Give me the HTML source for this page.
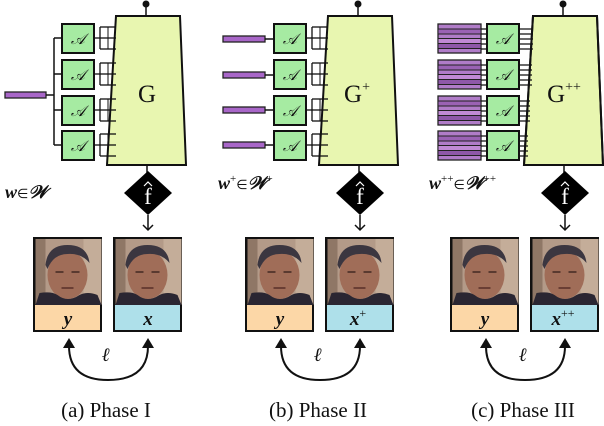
<!DOCTYPE html>
<html><head><meta charset="utf-8"><style>
html,body{margin:0;padding:0;background:#fff;}
svg{display:block;}
text{font-family:"Liberation Serif",serif;}
</style></head><body>
<svg width="604" height="426" viewBox="0 0 604 426" xmlns="http://www.w3.org/2000/svg">
<defs>
<g id="face">
  <rect x="0" y="0" width="66" height="66" fill="#b39a88"/>
  <rect x="48" y="0" width="18" height="66" fill="#c4ad99"/>
  <rect x="0" y="0" width="10" height="66" fill="#8f7766"/>
  <ellipse cx="32" cy="36" rx="20" ry="24" fill="#a06d58"/>
  <path d="M10 26 Q12 6 32 6 Q52 6 54 24 Q46 14 32 15 Q18 15 12 30 Z" fill="#3b3640"/>
  <path d="M0 66 L4 54 Q16 52 22 56 Q32 64 44 56 Q52 52 62 56 L66 66 Z" fill="#2a2632"/>
  <rect x="20" y="32" width="8" height="2" fill="#5a3a30"/>
  <rect x="36" y="32" width="8" height="2" fill="#5a3a30"/>
  <rect x="26" y="48" width="12" height="2" fill="#6a3e34"/>
</g>
<g id="abox">
  <rect x="0" y="0" width="32" height="29" fill="#a6eba2" stroke="#111" stroke-width="2"/>
  <text x="16" y="20" font-size="15" font-style="italic" text-anchor="middle" fill="#111">𝒜</text>
</g>
<g id="common">
  <polygon points="116,16 180,16 186,165 107,165" fill="#e8f6b0" stroke="#111" stroke-width="2"/>
  <line x1="146" y1="4" x2="146" y2="16" stroke="#111" stroke-width="1.5"/>
  <circle cx="146" cy="4" r="3.5" fill="#111"/>
  <line x1="147" y1="165" x2="147" y2="173" stroke="#111" stroke-width="1.5"/>
  <polygon points="148,171 172,193 148,215 124,193" fill="#000"/>
  <text x="148" y="204" font-size="23" fill="#fff" text-anchor="middle">f</text>
  <path d="M144 186 L148 182 L152 186" fill="none" stroke="#fff" stroke-width="1.2"/>
  <line x1="148" y1="215" x2="148" y2="230" stroke="#111" stroke-width="1.5"/>
  <polyline points="143,225 148,230 153,225" fill="none" stroke="#111" stroke-width="1.5"/>
  <rect x="33" y="237" width="69" height="95" fill="#111"/>
  <use href="#face" transform="translate(35.5,239)"/>
  <rect x="35" y="305" width="65" height="25" fill="#fcd7a7"/>
  <rect x="113" y="237" width="69" height="95" fill="#111"/>
  <use href="#face" transform="translate(115.5,239)"/>
  <rect x="115" y="305" width="65" height="25" fill="#aee0ea"/>
  <text x="68" y="325" font-size="19" font-weight="bold" font-style="italic" text-anchor="middle" fill="#111">y</text>
  <path d="M69 346 Q69 380 108 380 Q148 380 148 346" fill="none" stroke="#111" stroke-width="2"/>
  <polygon points="63,348 69,338 75,348" fill="#111"/>
  <polygon points="142,348 148,338 154,348" fill="#111"/>
  <text x="106" y="361" font-size="19" font-weight="bold" font-style="italic" text-anchor="middle" fill="#111">ℓ</text>
</g>
<g id="ladder">
  <line x1="0" y1="14" x2="6" y2="14" stroke="#111" stroke-width="1.3"/>
  <line x1="6" y1="3" x2="6" y2="25" stroke="#111" stroke-width="1.3"/>
  <line x1="6" y1="3" x2="22" y2="3" stroke="#111" stroke-width="1.3"/>
  <line x1="6" y1="14" x2="22" y2="14" stroke="#111" stroke-width="1.3"/>
  <line x1="6" y1="25" x2="22" y2="25" stroke="#111" stroke-width="1.3"/>
  <line x1="14" y1="3" x2="14" y2="25" stroke="#111" stroke-width="1"/>
</g>
<g id="stack">
  <rect x="0" y="0" width="43" height="29" fill="#b07cc8" stroke="#222" stroke-width="1.3"/>
  <rect x="0" y="5" width="43" height="5" fill="#9a62b4" stroke="#222" stroke-width="1"/>
  <rect x="0" y="14.5" width="43" height="5" fill="#c08ad4" stroke="#222" stroke-width="1"/>
  <rect x="0" y="19.5" width="43" height="5" fill="#8e58a8" stroke="#222" stroke-width="1"/>
</g>
</defs>

<!-- Panel a -->
<use href="#common"/>
<text x="147" y="102" font-size="25" text-anchor="middle" fill="#111">G</text>
<text x="148" y="325" font-size="19" font-weight="bold" font-style="italic" text-anchor="middle" fill="#111">x</text>
<rect x="5" y="92" width="41" height="6" fill="#a866c8" stroke="#222" stroke-width="1.3"/>
<line x1="46" y1="95" x2="54" y2="95" stroke="#111" stroke-width="1.5"/>
<line x1="54" y1="38" x2="54" y2="145" stroke="#111" stroke-width="1.5"/>
<g stroke="#111" stroke-width="1.5">
<line x1="54" y1="38" x2="62" y2="38"/><line x1="54" y1="74" x2="62" y2="74"/>
<line x1="54" y1="110" x2="62" y2="110"/><line x1="54" y1="145" x2="62" y2="145"/>
</g>
<use href="#abox" transform="translate(62,24)"/>
<use href="#abox" transform="translate(62,60)"/>
<use href="#abox" transform="translate(62,96)"/>
<use href="#abox" transform="translate(62,131)"/>
<use href="#ladder" transform="translate(94,24)"/>
<use href="#ladder" transform="translate(94,60)"/>
<use href="#ladder" transform="translate(94,96)"/>
<use href="#ladder" transform="translate(94,131)"/>
<text x="5" y="198" font-size="18" font-weight="bold" font-style="italic" fill="#111">w<tspan font-weight="normal" font-style="normal" font-size="13">∈</tspan>𝒲</text>
<text x="106" y="417" font-size="21" text-anchor="middle" fill="#111">(a) Phase I</text>

<!-- Panel b -->
<g transform="translate(212,0)">
<use href="#common"/>
<text x="145" y="102" font-size="25" text-anchor="middle" fill="#111">G<tspan font-size="14" dy="-11">+</tspan></text>
<text x="146" y="325" font-size="19" font-weight="bold" font-style="italic" text-anchor="middle" fill="#111">x<tspan font-size="12" font-weight="normal" font-style="normal" dy="-8">+</tspan></text>
<g fill="#a866c8" stroke="#222" stroke-width="1.3">
<rect x="11" y="36" width="42" height="6"/><rect x="11" y="72" width="42" height="6"/>
<rect x="11" y="107" width="42" height="6"/><rect x="11" y="142" width="42" height="6"/>
</g>
<g stroke="#111" stroke-width="1.5">
<line x1="53" y1="39" x2="62" y2="39"/><line x1="53" y1="75" x2="62" y2="75"/>
<line x1="53" y1="110" x2="62" y2="110"/><line x1="53" y1="145" x2="62" y2="145"/>
</g>
<use href="#abox" transform="translate(62,24)"/>
<use href="#abox" transform="translate(62,60)"/>
<use href="#abox" transform="translate(62,96)"/>
<use href="#abox" transform="translate(62,131)"/>
<use href="#ladder" transform="translate(94,24)"/>
<use href="#ladder" transform="translate(94,60)"/>
<use href="#ladder" transform="translate(94,96)"/>
<use href="#ladder" transform="translate(94,131)"/>
<text x="6" y="189" font-size="18" font-weight="bold" font-style="italic" fill="#111">w<tspan font-size="11" font-weight="normal" font-style="normal" dy="-7">+</tspan><tspan font-weight="normal" font-style="normal" font-size="13" dy="7">∈</tspan>𝒲<tspan font-size="11" font-weight="normal" font-style="normal" dy="-7">+</tspan></text>
<text x="106" y="417" font-size="21" text-anchor="middle" fill="#111">(b) Phase II</text>
</g>

<!-- Panel c -->
<g transform="translate(417,0)">
<use href="#common"/>
<text x="147" y="102" font-size="25" text-anchor="middle" fill="#111">G<tspan font-size="14" dy="-11">++</tspan></text>
<text x="146" y="325" font-size="19" font-weight="bold" font-style="italic" text-anchor="middle" fill="#111">x<tspan font-size="12" font-weight="normal" font-style="normal" dy="-8">++</tspan></text>
<use href="#stack" transform="translate(21,24)"/>
<use href="#stack" transform="translate(21,60)"/>
<use href="#stack" transform="translate(21,96)"/>
<use href="#stack" transform="translate(21,131)"/>
<g stroke="#111" stroke-width="1.2">
<path d="M64 29H70M64 34H70M64 39H70M64 44H70M64 49H70"/>
<path d="M64 65H70M64 70H70M64 75H70M64 80H70M64 85H70"/>
<path d="M64 101H70M64 106H70M64 111H70M64 116H70M64 121H70"/>
<path d="M64 136H70M64 141H70M64 146H70M64 151H70M64 156H70"/>
<path d="M102 29H116M102 34H116M102 39H116M102 44H116M102 49H116"/>
<path d="M102 65H115M102 70H115M102 75H115M102 80H115M102 85H115"/>
<path d="M102 101H113M102 106H113M102 111H113M102 116H113M102 121H113"/>
<path d="M102 136H111M102 141H111M102 146H111M102 151H111M102 156H111"/>
</g>
<use href="#abox" transform="translate(70,24)"/>
<use href="#abox" transform="translate(70,60)"/>
<use href="#abox" transform="translate(70,96)"/>
<use href="#abox" transform="translate(70,131)"/>
<polygon points="116,16 180,16 186,165 107,165" fill="none" stroke="#111" stroke-width="2"/>
<text x="12" y="189" font-size="18" font-weight="bold" font-style="italic" fill="#111">w<tspan font-size="11" font-weight="normal" font-style="normal" dy="-7">++</tspan><tspan font-weight="normal" font-style="normal" font-size="13" dy="7">∈</tspan>𝒲<tspan font-size="11" font-weight="normal" font-style="normal" dy="-7">++</tspan></text>
<text x="106" y="417" font-size="21" text-anchor="middle" fill="#111">(c) Phase III</text>
</g>
</svg>
</body></html>
